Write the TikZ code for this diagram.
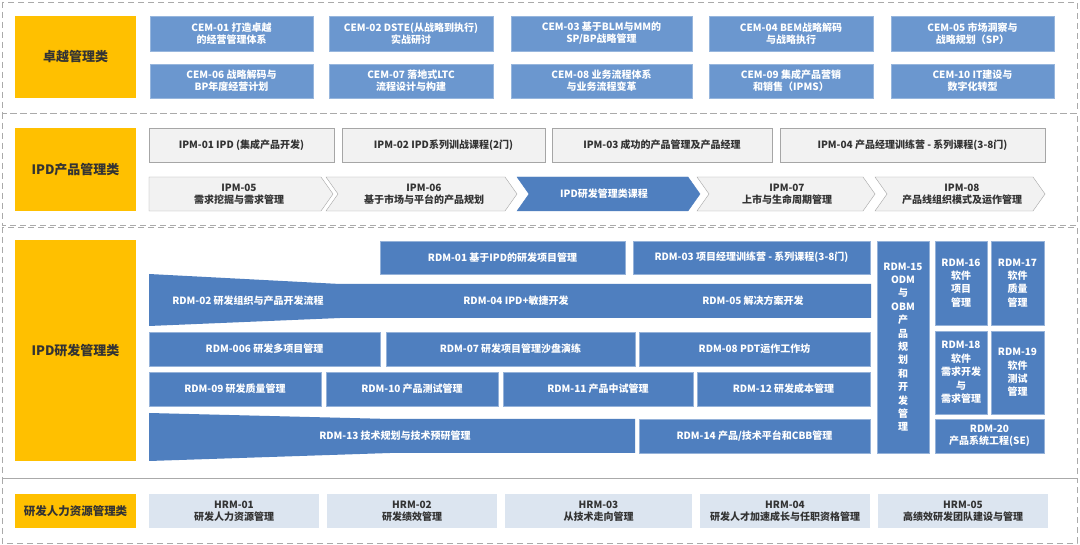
\documentclass[tikz,border=0pt]{standalone}
\usepackage{fontspec}
\setmainfont{Noto Sans CJK SC}
\begin{document}
\begin{tikzpicture}[x=1pt,y=-1pt,
  base/.style={inner sep=0pt,align=center,font=\fontsize{10}{12}\selectfont\bfseries},
  cem/.style={base,fill=cemblue,draw=cemblue!70!white,text=white},
  rdm/.style={base,fill=rdmblue,draw=rdmblue!60!white,text=white},
  ipm/.style={base,fill=ipmgray,draw=ipmline,text=txt},
  hrm/.style={base,fill=hrmfill,text=txt},
  cat/.style={base,fill=catyellow,text=txt,font=\fontsize{13}{15}\selectfont\bfseries},
  sect/.style={draw=sectline,dashed,line width=0.8pt,dash pattern=on 6pt off 4pt},
  chev/.style={fill=ipmgray,draw=ipmline},
  chevb/.style={fill=rdmblue,draw=rdmblue}]
\definecolor{cemblue}{HTML}{6B97CF}
\definecolor{rdmblue}{HTML}{4F7FBF}
\definecolor{ipmgray}{HTML}{F2F2F2}
\definecolor{ipmline}{HTML}{A6A6A6}
\definecolor{hrmfill}{HTML}{DCE5F0}
\definecolor{catyellow}{HTML}{FFC000}
\definecolor{txt}{HTML}{333333}
\definecolor{sectline}{HTML}{AAAAAA}
\newcommand\bx[7]{\node[#6,minimum width={(#4-#2)*1pt},minimum height={(#5-#3)*1pt}] (#1) at ({(#2+#4)/2},{(#3+#5)/2}) {#7};}
\fill[white] (0,0) rectangle (1080,545);
\useasboundingbox (0,0) rectangle (1080,545);
% sections
\draw[sect] (2,2) rectangle (1077,113);
\draw[sect] (2,113) rectangle (1077,225);
\draw[sect] (2,227) rectangle (1077,478);
\draw[sect] (2,478) rectangle (1077,543);
% categories
\bx{c1}{15}{16}{136}{98}{cat}{卓越管理类}
\bx{c2}{15}{128}{136}{211}{cat}{IPD产品管理类}
\bx{c3}{15}{240}{136}{461}{cat}{IPD研发管理类}
\bx{c4}{15}{494}{136}{528}{cat,font=\fontsize{11.5}{13}\selectfont\bfseries}{研发人力资源管理类}
% CEM
\bx{cem1}{150}{16}{313}{51}{cem}{CEM-01 打造卓越\\的经营管理体系}
\bx{cem2}{329}{16}{493}{51}{cem}{CEM-02 DSTE(从战略到执行)\\实战研讨}
\bx{cem3}{511}{16}{692}{51}{cem}{CEM-03 基于BLM与MM的\\SP/BP战略管理}
\bx{cem4}{709}{16}{873}{51}{cem}{CEM-04 BEM战略解码\\与战略执行}
\bx{cem5}{891}{16}{1054}{51}{cem}{CEM-05 市场洞察与\\战略规划（SP）}
\bx{cem6}{150}{64}{313}{98}{cem}{CEM-06 战略解码与\\BP年度经营计划}
\bx{cem7}{329}{64}{493}{98}{cem}{CEM-07 落地式LTC\\流程设计与构建}
\bx{cem8}{511}{64}{692}{98}{cem}{CEM-08 业务流程体系\\与业务流程变革}
\bx{cem9}{709}{64}{873}{98}{cem}{CEM-09 集成产品营销\\和销售（IPMS）}
\bx{cem10}{891}{64}{1054}{98}{cem}{CEM-10 IT建设与\\数字化转型}
% IPM row 1
\bx{ipm1}{149}{128}{334}{162}{ipm}{IPM-01 IPD (集成产品开发)}
\bx{ipm2}{342}{128}{545}{162}{ipm}{IPM-02 IPD系列训战课程(2门)}
\bx{ipm3}{552}{128}{772}{162}{ipm}{IPM-03 成功的产品管理及产品经理}
\bx{ipm4}{780}{128}{1045}{162}{ipm}{IPM-04 产品经理训练营 - 系列课程(3-8门)}
% IPM chevrons
\draw[chev] (149,177) -- (321,177) -- (333,194) -- (321,211) -- (149,211) -- cycle;
\draw[chev] (326,177) -- (505,177) -- (517,194) -- (505,211) -- (326,211) -- (338,194) -- cycle;
\draw[chevb] (517,177) -- (688,177) -- (700,194) -- (688,211) -- (517,211) -- (529,194) -- cycle;
\draw[chev] (697,177) -- (863,177) -- (875,194) -- (863,211) -- (697,211) -- (709,194) -- cycle;
\draw[chev] (875,177) -- (1033,177) -- (1045,194) -- (1033,211) -- (875,211) -- (887,194) -- cycle;
\node[base,text=txt] (ipm5) at (239,194) {IPM-05\\需求挖掘与需求管理};
\node[base,text=txt] (ipm6) at (424,194) {IPM-06\\基于市场与平台的产品规划};
\node[base,text=white] (ipdc) at (604,194) {IPD研发管理类课程};
\node[base,text=txt] (ipm7) at (787,194) {IPM-07\\上市与生命周期管理};
\node[base,text=txt] (ipm8) at (962,194) {IPM-08\\产品线组织模式及运作管理};
% RDM
\bx{rdm1}{380}{241}{625}{274}{rdm}{RDM-01 基于IPD的研发项目管理}
\bx{rdm3}{633}{241}{870}{274}{rdm}{RDM-03 项目经理训练营 - 系列课程(3-8门)}
\fill[rdmblue] (149,274) -- (340,284) -- (871,284) -- (871,318) -- (340,318) -- (149,326) -- cycle;
\node[base,text=white] (rdm2) at (248,301) {RDM-02 研发组织与产品开发流程};
\node[base,text=white] (rdm4) at (516,301) {RDM-04 IPD+敏捷开发};
\node[base,text=white] (rdm5) at (753,301) {RDM-05 解决方案开发};
\bx{rdm6}{149}{332}{380}{366}{rdm}{RDM-006 研发多项目管理}
\bx{rdm7}{386}{332}{635}{366}{rdm}{RDM-07 研发项目管理沙盘演练}
\bx{rdm8}{639}{332}{870}{366}{rdm}{RDM-08 PDT运作工作坊}
\bx{rdm9}{149}{372}{321}{406}{rdm}{RDM-09 研发质量管理}
\bx{rdm10}{326}{372}{498}{406}{rdm}{RDM-10 产品测试管理}
\bx{rdm11}{503}{372}{693}{406}{rdm}{RDM-11 产品中试管理}
\bx{rdm12}{697}{372}{870}{406}{rdm}{RDM-12 研发成本管理}
\fill[rdmblue] (149,413) -- (390,419) -- (635,419) -- (635,453) -- (390,453) -- (149,461) -- cycle;
\node[base,text=white] (rdm13) at (395,436) {RDM-13 技术规划与技术预研管理};
\bx{rdm14}{639}{419}{870}{453}{rdm}{RDM-14 产品/技术平台和CBB管理}
\bx{rdm15}{877}{241}{929}{453}{rdm,font=\fontsize{10}{13.4}\selectfont\bfseries}{RDM-15\\ODM\\与\\OBM\\产\\品\\规\\划\\和\\开\\发\\管\\理}
\bx{rdm16}{935}{241}{987}{325}{rdm,font=\fontsize{10}{13.4}\selectfont\bfseries}{RDM-16\\软件\\项目\\管理}
\bx{rdm17}{991}{241}{1044}{325}{rdm,font=\fontsize{10}{13.4}\selectfont\bfseries}{RDM-17\\软件\\质量\\管理}
\bx{rdm18}{935}{331}{987}{414}{rdm,font=\fontsize{10}{13.4}\selectfont\bfseries}{RDM-18\\软件\\需求开发\\与\\需求管理}
\bx{rdm19}{991}{331}{1044}{414}{rdm,font=\fontsize{10}{13.4}\selectfont\bfseries}{RDM-19\\软件\\测试\\管理}
\bx{rdm20}{935}{419}{1044}{453}{rdm}{RDM-20\\产品系统工程(SE)}
% HRM
\bx{hrm1}{149}{494}{319}{528}{hrm}{HRM-01\\研发人力资源管理}
\bx{hrm2}{327}{494}{497}{528}{hrm}{HRM-02\\研发绩效管理}
\bx{hrm3}{505}{494}{692}{528}{hrm}{HRM-03\\从技术走向管理}
\bx{hrm4}{700}{494}{870}{528}{hrm}{HRM-04\\研发人才加速成长与任职资格管理}
\bx{hrm5}{878}{494}{1048}{528}{hrm}{HRM-05\\高绩效研发团队建设与管理}
\end{tikzpicture}
\end{document}
